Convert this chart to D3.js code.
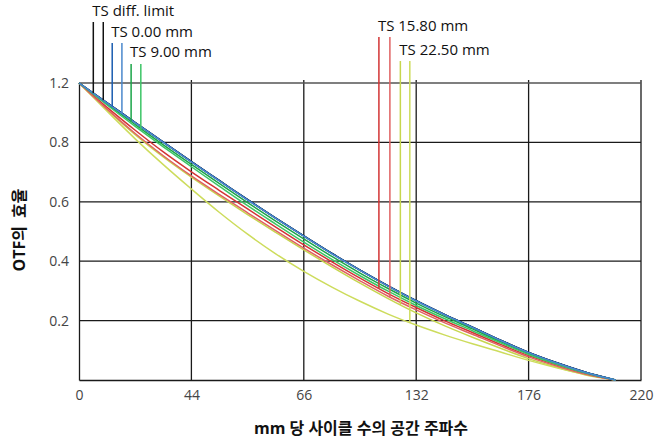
<!DOCTYPE html>
<html>
<head>
<meta charset="utf-8">
<script src="https://cdn.jsdelivr.net/npm/d3@7"></script>
<style>
  body { margin: 0; background: #fff; }
  text { font-family: "Open Sans", "Noto Sans CJK KR", sans-serif; }
</style>
</head>
<body>
<svg width="670" height="441"></svg>
<script>
// spatial frequency (cycles / mm)
const freq = [0, 11, 22, 33, 44, 55, 66, 77, 88, 99, 110, 121, 132, 143, 154, 165, 176, 187, 198, 210];

// OTF efficiency
const diffS  = [1.0, .933, .867, .801, .735, .671, .607, .545, .485, .426, .370, .317, .267, .221, .178, .134, .093, .058, .027, 0];
const diffT  = [1.0, .933, .867, .801, .735, .671, .607, .545, .485, .426, .370, .317, .267, .221, .178, .134, .093, .058, .027, 0];
const ts0S   = [1.0, .933, .867, .801, .735, .671, .607, .545, .485, .426, .370, .317, .267, .221, .178, .134, .093, .058, .027, 0];
const ts0T   = [1.0, .932, .866, .800, .734, .670, .606, .544, .484, .425, .369, .316, .266, .220, .177, .133, .092, .057, .026, 0];
const ts9S   = [1.0, .929, .860, .792, .726, .661, .597, .535, .475, .416, .360, .308, .259, .214, .172, .129, .089, .055, .025, 0];
const ts9T   = [1.0, .926, .854, .785, .718, .652, .587, .525, .464, .406, .351, .299, .251, .207, .166, .125, .086, .053, .024, 0];
const ts158S = [1.0, .918, .841, .768, .701, .638, .576, .515, .455, .398, .343, .291, .244, .200, .160, .120, .082, .050, .022, 0];
const ts158T = [1.0, .912, .830, .755, .687, .624, .563, .503, .444, .388, .334, .282, .236, .193, .154, .115, .078, .047, .020, 0];
const ts225S = [1.0, .910, .826, .751, .683, .619, .557, .497, .438, .381, .326, .274, .226, .183, .144, .107, .072, .043, .018, 0];
const ts225T = [1.0, .905, .812, .725, .643, .564, .491, .425, .366, .313, .265, .222, .185, .152, .122, .094, .066, .041, .019, 0];

// legend labels and the frequencies where their leader lines meet the curves
const legendNames = ["TS diff. limit", "TS 0.00 mm", "TS 9.00 mm", "TS 15.80 mm", "TS 22.50 mm"];
const legendMarks = [[5.6, 9.5], [13.0, 16.8], [20.4, 24.2], [117.4, 121.7], [125.8, 129.5]];

// axis ticks
const xTicks = [0, 44, 88, 132, 176, 220];
const xTickLabels = ["0", "44", "66", "132", "176", "220"];
const yTicks = [0.2, 0.4, 0.6, 0.8, 1.0];
const yTickLabels = ["0.2", "0.4", "0.6", "0.8", "1.2"];

const groups = [
  {series: [diffS, diffT],   colors: ["#111", "#111"]},
  {series: [ts0S, ts0T],     colors: ["#1a5cb0", "#4a88cc"]},
  {series: [ts9S, ts9T],     colors: ["#1aa548", "#3cc566"]},
  {series: [ts158S, ts158T], colors: ["#d33434", "#e06262"]},
  {series: [ts225S, ts225T], colors: ["#c6d64e", "#cddc5c"]}
];
const lineTops = [22, 43, 64, 37, 61];
const labelBase = [16, 37, 57, 31, 55];

const svg = d3.select("svg");
const x = d3.scaleLinear().domain([0, 220]).range([79, 641]);
const y = d3.scaleLinear().domain([0, 1]).range([380, 83]);

// grid
const grid = svg.append("g").attr("stroke", "#1a1a1a").attr("stroke-width", 1.3);
grid.selectAll(".vg").data(xTicks.slice(1)).enter().append("line")
  .attr("x1", d => x(d)).attr("x2", d => x(d))
  .attr("y1", y(1) - 3).attr("y2", y(0));
grid.selectAll(".hg").data(yTicks).enter().append("line")
  .attr("x1", x(0)).attr("x2", x(220))
  .attr("y1", d => y(d)).attr("y2", d => y(d))
  .attr("stroke", d => d === 1 ? "#555" : "#1a1a1a");

// axes
svg.append("g")
  .attr("transform", `translate(0,${y(0)})`)
  .call(d3.axisBottom(x).tickValues(xTicks).tickSize(0).tickPadding(10)
    .tickFormat((d, i) => xTickLabels[i]))
  .call(g => g.select(".domain").attr("stroke", "#1a1a1a").attr("stroke-width", 1.3))
  .call(g => g.selectAll("text").attr("font-size", 14).attr("fill", "#444")
    .attr("font-family", "Open Sans"));

svg.append("g")
  .attr("transform", `translate(${x(0)},0)`)
  .call(d3.axisLeft(y).tickValues(yTicks).tickSize(0).tickPadding(10)
    .tickFormat((d, i) => yTickLabels[i]))
  .call(g => g.select(".domain").attr("stroke", "#1a1a1a").attr("stroke-width", 1.3))
  .call(g => g.selectAll("text").attr("font-size", 14).attr("fill", "#444")
    .attr("font-family", "Open Sans"));

// curves
const line = d3.line().x((d, i) => x(freq[i])).y(d => y(d)).curve(d3.curveMonotoneX);
const drawOrder = [0, 4, 3, 2, 1];
drawOrder.forEach(gi => {
  const grp = groups[gi];
  grp.series.forEach((s, si) => {
    svg.append("path").datum(s)
      .attr("fill", "none")
      .attr("stroke", grp.colors[si])
      .attr("stroke-width", 1.5)
      .attr("d", line);
  });
});

// value on a curve at a given frequency
function valueAt(s, f) {
  const i = Math.min(d3.bisectRight(freq, f), freq.length - 1);
  const t = (f - freq[i - 1]) / (freq[i] - freq[i - 1]);
  return s[i - 1] + t * (s[i] - s[i - 1]);
}

// legend leader lines and labels
groups.forEach((grp, gi) => {
  legendMarks[gi].forEach((f, k) => {
    svg.append("line")
      .attr("x1", x(f)).attr("x2", x(f))
      .attr("y1", lineTops[gi])
      .attr("y2", y(valueAt(grp.series[k], f)))
      .attr("stroke", grp.colors[k])
      .attr("stroke-width", 1.5);
  });
  svg.append("text")
    .attr("x", x(legendMarks[gi][0]) - 1)
    .attr("y", labelBase[gi])
    .attr("font-size", 15)
    .attr("fill", "#111")
    .text(legendNames[gi]);
});

// axis titles
svg.append("text")
  .attr("x", 361).attr("y", 434)
  .attr("text-anchor", "middle")
  .attr("font-size", 16).attr("font-weight", "bold")
  .attr("fill", "#111")
  .text("mm 당 사이클 수의 공간 주파수");

svg.append("text")
  .attr("transform", "translate(25,230) rotate(-90)")
  .attr("text-anchor", "middle")
  .attr("font-size", 16).attr("font-weight", "bold")
  .attr("fill", "#111")
  .style("word-spacing", "4px")
  .text("OTF의 효율");
</script>
</body>
</html>
